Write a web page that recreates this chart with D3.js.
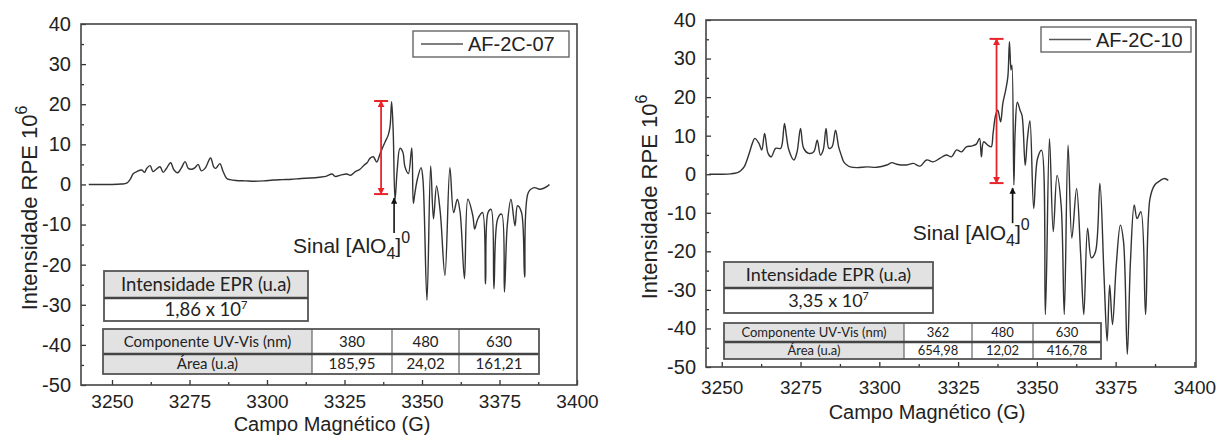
<!DOCTYPE html>
<html><head><meta charset="utf-8">
<script src="https://cdn.jsdelivr.net/npm/d3@7"></script>
<style>body{margin:0;background:#fff}svg{display:block}</style>
</head><body><svg id="c" width="1228" height="436"></svg>
<script>
// ---------- data ----------
const xTicks = [3250, 3275, 3300, 3325, 3350, 3375, 3400];
const yTicks = [40, 30, 20, 10, 0, -10, -20, -30, -40, -50];
const seriesNames = ["AF-2C-07", "AF-2C-10"];

const fieldA = [3242.5,3246,3250,3253,3254.7,3255.8,3256.9,3258,3259.6,3260.5,3261.2,3262.3,3263.2,3264,3265.5,3266.5,3267.5,3268.9,3270,3271.2,3272.3,3273.6,3274.6,3275.8,3276.8,3277.8,3278.8,3280,3281.8,3282.8,3283.5,3284.8,3285.8,3287,3288.1,3290,3293,3296,3299,3302,3305,3308,3311,3314,3317,3319,3321,3322,3324,3325.7,3327,3328.5,3330,3331.3,3332.3,3333.2,3334.3,3335.4,3336.5,3337.3,3338.1,3339.1,3339.7,3340.2,3340.7,3341.3,3342.0,3342.9,3343.8,3344.5,3345.6,3346.7,3347.2,3347.7,3348.5,3349.7,3350.3,3351.6,3352.8,3353.7,3354.7,3355.9,3357.4,3359.0,3360.2,3361.4,3362.3,3363.7,3364.8,3366.4,3367.0,3368.0,3369.5,3370.5,3371.3,3372.3,3373.2,3374.4,3375.7,3376.6,3377.5,3378.7,3380.0,3380.8,3382.1,3383.1,3384.3,3386.2,3388.0,3390.5,3391.1];
const rpeA = [0,0,0,0.1,0.3,1.2,2.7,3.2,3.6,3.0,4.0,4.7,3.2,3.6,4.4,3.0,3.9,5.4,3.6,2.9,4.0,5.7,4.0,3.8,4.2,5.0,3.4,4.0,6.6,4.4,4.0,5.2,3.3,1.5,1.2,1.0,0.9,0.8,0.9,1.1,1.2,1.3,1.5,1.6,1.8,2.0,2.6,2.0,2.4,2.6,2.3,3.2,3.8,4.8,5.4,6.5,6.9,5.6,7.7,9.2,10.6,12.3,14.5,20.6,13.5,-3.9,3.6,9.0,8.1,4.4,2.7,9.1,-4.7,-2.2,1.3,4.2,1.3,-28.9,4.6,-8.6,-0.4,-7.0,-22.7,4.2,-7.0,-3.7,-7.0,-23.5,-3.7,-7.8,-11.1,-8.6,-7.0,-24.8,-7.0,-6.2,-26.0,-8.6,-7.4,-26.8,-10.3,-3.7,-10.3,-5.3,-7.0,-23.1,-2.0,-0.8,-1.2,-0.4,0];

const fieldB = [3246.0,3249.7,3252.9,3255.0,3256.0,3257.1,3258.7,3259.7,3260.5,3261.8,3262.7,3263.6,3264.7,3265.7,3267.1,3268.7,3269.2,3269.9,3270.5,3271.3,3272.9,3273.9,3275.0,3276.0,3277.6,3279.2,3280.3,3281.3,3282.2,3283.1,3284.0,3285.0,3286.1,3287.1,3287.9,3288.7,3289.7,3290.8,3292.9,3296.1,3299.2,3302.4,3304.0,3305.5,3308.7,3310.8,3312.9,3315.0,3317.1,3319.2,3321.3,3322.9,3324.5,3326.1,3327.6,3329.2,3330.8,3331.8,3332.4,3333.1,3334.5,3335.5,3336.1,3336.9,3337.6,3338.5,3339.2,3340.1,3340.8,3341.3,3341.8,3342.1,3342.7,3343.1,3343.8,3344.7,3345.3,3346.3,3347.0,3347.8,3349.0,3350.2,3351.5,3352.7,3354.0,3355.2,3356.4,3357.7,3358.7,3359.9,3361.1,3362.6,3363.9,3364.9,3366.1,3367.3,3368.6,3370.0,3371.3,3372.3,3373.1,3374.0,3375.2,3376.5,3377.5,3378.7,3379.7,3380.9,3381.8,3383.0,3384.5,3385.9,3387.4,3389.2,3390.5,3391.7];
const rpeB = [0,0,0.1,0.4,0.9,1.9,5.4,8.0,9.3,8.0,6.3,10.6,5.4,4.5,6.7,6.7,8.0,13.2,10.1,6.3,3.7,5.8,11.9,6.7,5.4,5.8,8.8,5.0,6.3,11.9,6.7,7.1,11.4,7.1,5.0,3.2,2.4,1.9,1.7,1.9,1.8,2.4,3.0,2.6,2.4,2.8,2.1,3.7,3.2,4.1,5.0,4.5,6.3,5.8,7.1,7.3,7.8,9.3,4.5,8.4,7.5,7.1,10.6,15.3,16.6,13.6,18.4,21.8,25.3,34.4,27.0,28.3,-2.8,10.9,18.7,16.5,15.2,2.3,9.2,13.9,-8.9,4.0,6.2,-36.4,9.2,-14.9,-0.3,-8.0,-36.4,7.5,-16.6,-3.7,-20.9,-36.4,-14.0,-21.7,-20.1,-2.4,-26.1,-43.3,-28.7,-39.0,-23.5,-13.2,-17.5,-46.7,-22.6,-8.0,-11.5,-9.7,-36.4,-6.3,-2.8,-1.6,-1.1,-1.6];

// table texts
const tableHead = "Intensidade EPR (u.a)";
const intensA = ["1,86 x 10", "7"];
const intensB = ["3,35 x 10", "7"];
const uvRowLabels = ["Componente UV-Vis (nm)", "Área (u.a)"];
const uvWaveA = ["380", "480", "630"];
const uvAreaA = ["185,95", "24,02", "161,21"];
const uvWaveB = ["362", "480", "630"];
const uvAreaB = ["654,98", "12,02", "416,78"];

// annotation values (data units)
const bracketA = {x: 3336.8, y0: -2.4, y1: 20.8};
const bracketB = {x: 3337.2, y0: -2.3, y1: 35.1};
const arrowA = {x: 3341.0, y0: -12.1, y1: -3.4};
const arrowB = {x: 3342.3, y0: -12.7, y1: -3.6};

// ---------- drawing ----------
const svg = d3.select("#c");
svg.append("rect").attr("width",1228).attr("height",436).attr("fill","#fff");
const defs = svg.append("defs");
defs.append("marker").attr("id","redArr").attr("viewBox","0 0 10 10").attr("refX",9).attr("refY",5)
  .attr("markerWidth",4).attr("markerHeight",4).attr("orient","auto-start-reverse")
  .append("path").attr("d","M0,0L10,5L0,10z").attr("fill","#e8242b");
defs.append("marker").attr("id","blkArr").attr("viewBox","0 0 10 10").attr("refX",9).attr("refY",5)
  .attr("markerWidth",4).attr("markerHeight",4).attr("orient","auto")
  .append("path").attr("d","M0,0L10,5L0,10z").attr("fill","#111");

const TXT = "#222";
const AX = "Liberation Sans, Arial, sans-serif";
const TB = "Lato, Carlito, sans-serif";
const fmt = d => String(d);

function panel(cfg) {
  const x = d3.scaleLinear().domain(cfg.xDomain).range([cfg.left, cfg.right]);
  const y = d3.scaleLinear().domain([-50, 40]).range([cfg.bottom, cfg.top]);
  const g = svg.append("g");

  // series line
  const pts = cfg.field.map((f,i)=>[f, cfg.rpe[i]]);
  g.append("path").datum(pts)
    .attr("d", d3.line().curve(d3.curveCatmullRom.alpha(0.5)).x(d=>x(d[0])).y(d=>y(d[1])))
    .attr("fill","none").attr("stroke","#333").attr("stroke-width",1.4).attr("stroke-linejoin","round");

  // axes with inward ticks
  const minorX = d3.range(3250, 3400.1, 12.5).filter(v=>v%25!==0);
  const minorY = d3.range(-45, 40, 10);
  const ax = g.append("g").attr("transform",`translate(0,${cfg.bottom})`)
    .call(d3.axisBottom(x).tickValues(xTicks).tickSize(-5).tickPadding(10).tickFormat(fmt));
  ax.select(".domain").remove();
  ax.selectAll("text").attr("font-family",AX).attr("font-size",19).attr("fill",TXT).attr("dy",null)
    .attr("y", cfg.xLabY - cfg.bottom);
  ax.selectAll("line").attr("stroke","#333").attr("stroke-width",1.3);
  const axm = g.append("g").attr("transform",`translate(0,${cfg.bottom})`)
    .call(d3.axisBottom(x).tickValues(minorX).tickSize(-3).tickFormat(""));
  axm.select(".domain").remove();
  axm.selectAll("line").attr("stroke","#333").attr("stroke-width",1.3);

  const ay = g.append("g").attr("transform",`translate(${cfg.left},0)`)
    .call(d3.axisLeft(y).tickValues(yTicks).tickSize(-5).tickPadding(10).tickFormat(fmt));
  ay.select(".domain").remove();
  ay.selectAll("text").attr("font-family",AX).attr("font-size",20).attr("fill",TXT);
  ay.selectAll("line").attr("stroke","#333").attr("stroke-width",1.3);
  const aym = g.append("g").attr("transform",`translate(${cfg.left},0)`)
    .call(d3.axisLeft(y).tickValues(minorY).tickSize(-3).tickFormat(""));
  aym.select(".domain").remove();
  aym.selectAll("line").attr("stroke","#333").attr("stroke-width",1.3);

  // frame
  g.append("rect").attr("x",cfg.left).attr("y",cfg.top)
    .attr("width",cfg.right-cfg.left).attr("height",cfg.bottom-cfg.top)
    .attr("fill","none").attr("stroke","#444").attr("stroke-width",1.6);

  // axis titles
  g.append("text").attr("x",cfg.xTitleX).attr("y",cfg.xTitleY)
    .attr("text-anchor","middle").attr("font-family",AX).attr("font-size",20).attr("fill",TXT)
    .text("Campo Magnético (G)");
  const yt = g.append("text").attr("transform",`translate(${cfg.yTitleX},${cfg.yTitleY}) rotate(-90)`)
    .attr("text-anchor","middle").attr("font-family",AX).attr("font-size",22).attr("fill",TXT);
  yt.append("tspan").text("Intensidade RPE 10");
  yt.append("tspan").attr("dy",-10).attr("font-size",16).text("6");

  // legend
  const L = cfg.legend;
  g.append("rect").attr("x",L.x).attr("y",L.y).attr("width",L.w).attr("height",L.h)
    .attr("fill","#fff").attr("stroke","#666").attr("stroke-width",1.4);
  g.append("line").attr("x1",L.x+8).attr("x2",L.x+50).attr("y1",L.y+L.h/2).attr("y2",L.y+L.h/2)
    .attr("stroke","#555").attr("stroke-width",1.5);
  g.append("text").attr("x",L.x+55).attr("y",L.y+L.h/2+7).attr("font-family",AX).attr("font-size",20)
    .attr("fill",TXT).text(cfg.name);

  // red bracket
  const b = cfg.bracket;
  g.append("line").attr("x1",x(b.x)).attr("x2",x(b.x)).attr("y1",y(b.y0)).attr("y2",y(b.y1))
    .attr("stroke","#e8242b").attr("stroke-width",1.8)
    .attr("marker-start","url(#redArr)").attr("marker-end","url(#redArr)");
  [b.y0,b.y1].forEach(v=>g.append("line").attr("x1",x(b.x)-7).attr("x2",x(b.x)+7)
    .attr("y1",y(v)).attr("y2",y(v)).attr("stroke","#e8242b").attr("stroke-width",2));

  // black arrow
  const a = cfg.arrow;
  g.append("line").attr("x1",x(a.x)).attr("x2",x(a.x)).attr("y1",y(a.y0)).attr("y2",y(a.y1))
    .attr("stroke","#111").attr("stroke-width",1.6).attr("marker-end","url(#blkArr)");
  const st = g.append("text").attr("x",x(cfg.sinal.x)).attr("y",y(cfg.sinal.y))
    .attr("font-family",AX).attr("font-size",21).attr("fill",TXT);
  st.append("tspan").text("Sinal [AlO");
  st.append("tspan").attr("dy",6).attr("font-size",16).text("4");
  st.append("tspan").attr("dy",-6).text("]");
  st.append("tspan").attr("dy",-10).attr("font-size",16).text("0");

  // tables
  const T = cfg.t1;
  const tg = g.append("g");
  tg.append("rect").attr("x",T.x).attr("y",T.y).attr("width",T.w).attr("height",T.h1)
    .attr("fill","#e2e2e2");
  tg.append("rect").attr("x",T.x).attr("y",T.y+T.h1).attr("width",T.w).attr("height",T.h2)
    .attr("fill","#fff");
  tg.append("rect").attr("x",T.x).attr("y",T.y).attr("width",T.w).attr("height",T.h1+T.h2)
    .attr("fill","none").attr("stroke","#555").attr("stroke-width",1.8);
  tg.append("line").attr("x1",T.x).attr("x2",T.x+T.w).attr("y1",T.y+T.h1).attr("y2",T.y+T.h1)
    .attr("stroke","#444").attr("stroke-width",2.6);
  tg.append("text").attr("x",T.x+T.w/2).attr("y",T.y+T.h1/2+6).attr("text-anchor","middle")
    .attr("font-family",TB).attr("font-size",T.fs).attr("fill",TXT).text(tableHead);
  const it = tg.append("text").attr("x",T.x+T.w/2).attr("y",T.y+T.h1+T.h2/2+6).attr("text-anchor","middle")
    .attr("font-family",TB).attr("font-size",T.fs).attr("fill",TXT);
  it.append("tspan").text(cfg.intens[0]);
  it.append("tspan").attr("dy",-7).attr("font-size",T.fs*0.6).text(cfg.intens[1]);

  const U = cfg.t2;
  const cx = U.cols;
  const rowsY = [U.y, U.y+U.h1, U.y+U.h1+U.h2];
  [0,1].forEach(r=>{
    tg.append("rect").attr("x",cx[0]).attr("y",rowsY[r]).attr("width",cx[1]-cx[0]).attr("height",rowsY[r+1]-rowsY[r]).attr("fill","#e2e2e2");
    tg.append("rect").attr("x",cx[1]).attr("y",rowsY[r]).attr("width",cx[4]-cx[1]).attr("height",rowsY[r+1]-rowsY[r]).attr("fill","#fff");
  });
  [1,2,3].forEach(i=>tg.append("line").attr("x1",cx[i]).attr("x2",cx[i]).attr("y1",rowsY[0]).attr("y2",rowsY[2])
    .attr("stroke","#666").attr("stroke-width",1.2));
  tg.append("line").attr("x1",cx[0]).attr("x2",cx[4]).attr("y1",rowsY[1]).attr("y2",rowsY[1])
    .attr("stroke","#444").attr("stroke-width",2.4);
  tg.append("rect").attr("x",cx[0]).attr("y",rowsY[0]).attr("width",cx[4]-cx[0]).attr("height",rowsY[2]-rowsY[0])
    .attr("fill","none").attr("stroke","#555").attr("stroke-width",1.8);
  const rowVals = [[uvRowLabels[0]].concat(cfg.wave), [uvRowLabels[1]].concat(cfg.area)];
  rowVals.forEach((row,r)=>row.forEach((s,c)=>{
    tg.append("text").attr("x",(cx[c]+cx[c+1])/2).attr("y",(rowsY[r]+rowsY[r+1])/2+U.fs*0.35)
      .attr("text-anchor","middle").attr("font-family",TB).attr("font-size",U.fs).attr("fill",TXT).text(s);
  }));
}

panel({
  name: seriesNames[0], field: fieldA, rpe: rpeA, xDomain:[3240,3400],
  left:81, right:577, top:24, bottom:385, xLabY:408, xTitleY:431, xTitleX:332, yTitleX:37, yTitleY:208,
  legend:{x:413, y:31, w:156, h:26},
  bracket: bracketA, arrow: arrowA, sinal:{x:3308.4, y:-17.1},
  intens: intensA, wave: uvWaveA, area: uvAreaA,
  t1:{x:104, y:271, w:204, h1:27, h2:23, fs:18.5},
  t2:{y:329, h1:25, h2:20, cols:[103,312,392,459,539], fs:15}
});
panel({
  name: seriesNames[1], field: fieldB, rpe: rpeB, xDomain:[3245,3400.5],
  left:706, right:1196, top:20, bottom:367, xLabY:394, xTitleY:419, xTitleX:927, yTitleX:657, yTitleY:197,
  legend:{x:1041, y:27, w:150, h:25},
  bracket: bracketB, arrow: arrowB, sinal:{x:3310.6, y:-17.1},
  intens: intensB, wave: uvWaveB, area: uvAreaB,
  t1:{x:724, y:262, w:209, h1:26, h2:25, fs:18},
  t2:{y:323, h1:19, h2:17, cols:[724,904,972,1033,1101], fs:13}
});
</script></body></html>
